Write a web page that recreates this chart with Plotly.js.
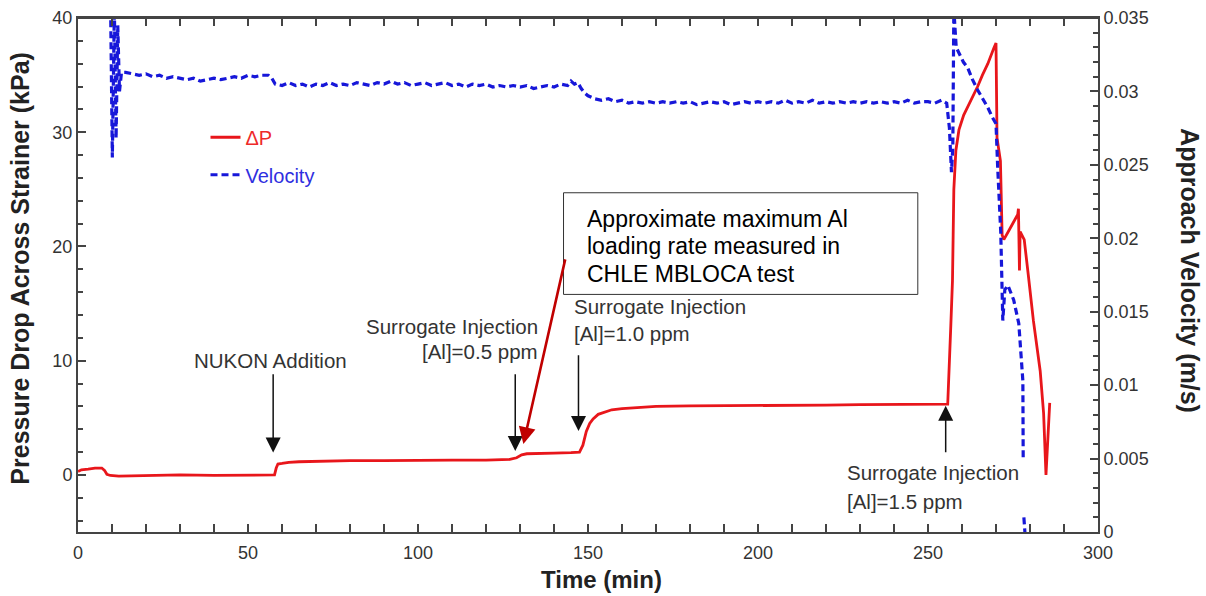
<!DOCTYPE html>
<html>
<head>
<meta charset="utf-8">
<script src="https://cdn.plot.ly/plotly-3.0.1.min.js"></script>
<style>
  html, body { margin: 0; padding: 0; background: #fff; }
  #chart { width: 1206px; height: 596px; }
</style>
</head>
<body>
<div id="chart"></div>
<script>
// ---- Data ----
// Pressure drop across strainer (kPa) vs time (min)
const dpTime = [0, 1, 3, 5, 7, 7.8, 8.5, 9.5, 12, 20, 30, 40, 50, 57.8, 58.3, 58.8, 60, 62, 65, 70,
  80, 90, 100, 110, 120, 127, 129, 130.5, 132, 135, 140, 145, 147.5, 148.5, 149.5, 150.5, 151.5, 153, 155, 157,
  160, 165, 170, 180, 190, 200, 210, 220, 230, 240, 250, 255.8, 256.7, 257.2, 257.4, 257.6, 258.2, 259.1, 260.5, 261.7,
  263, 264.6, 266, 267.6, 269.4, 270, 270.3, 271.3, 271.8, 272.3, 274, 276.4, 276.6, 276.9, 277.1, 278.3, 279.5, 281, 283, 284,
  284.7, 285.3, 285.8];
const dpValues = [0.3, 0.45, 0.5, 0.6, 0.6, 0.4, 0.05, -0.05, -0.1, -0.05, 0, -0.05, 0, 0, 0.6, 0.95, 1.0, 1.1, 1.15, 1.2,
  1.25, 1.25, 1.3, 1.3, 1.3, 1.35, 1.5, 1.75, 1.85, 1.85, 1.9, 1.95, 2.0, 2.6, 3.8, 4.5, 4.9, 5.3, 5.5, 5.7,
  5.8, 5.9, 6.0, 6.05, 6.05, 6.1, 6.1, 6.1, 6.15, 6.15, 6.2, 6.2, 13, 17, 21, 25, 28.4, 30.2, 31.5, 32.2,
  33.1, 34, 35, 36, 37.4, 37.8, 29.5, 27.5, 21.0, 20.6, 21.5, 22.8, 23.3, 17.9, 21.3, 20.6, 17.5, 13.5, 9.1, 5.4,
  0, 3, 6.3];

// Approach velocity (m/s) vs time (min)
const velTime = [9.6, 10.1, 10.7, 11.2, 11.7, 12.2, 12.8, 14, 16, 18, 20, 22, 24, 26, 28, 30, 32, 34, 36, 38,
  40, 42, 44, 46, 48, 50, 52, 54, 56, 57, 58, 60, 62, 64, 66, 68, 70, 72, 74, 76,
  78, 80, 82, 84, 86, 88, 90, 92, 94, 96, 98, 100, 102, 104, 106, 108, 110, 112, 114, 116,
  118, 120, 122, 124, 126, 128, 130, 132, 134, 136, 138, 140, 142, 144, 145, 146, 147, 148, 149, 150,
  151, 152, 154, 156, 158, 160, 162, 164, 166, 168, 170, 172, 174, 176, 178, 180, 182, 184, 186, 188,
  190, 192, 194, 196, 198, 200, 202, 204, 206, 208, 210, 212, 214, 216, 218, 220, 222, 224, 226, 228,
  230, 232, 234, 236, 238, 240, 242, 244, 246, 248, 250, 252, 254, 255.5, 256.3, 256.9, 257.3, 257.6, 258.3, 259.1,
  260.4, 261.7, 263.1, 264.6, 266.1, 267.6, 269, 270, 270.5, 271.4, 272, 272.6, 273.5, 275.2, 276.7, 277.9, 278.0, 278.1, 278.2, 278.5];
const velValues = [0.0356, 0.0255, 0.0356, 0.0268, 0.0345, 0.0300, 0.0313, 0.0313, 0.0312, 0.0311, 0.0312, 0.0310, 0.0311, 0.0309, 0.0310, 0.0309, 0.0308, 0.0309, 0.0307, 0.0308,
  0.0309, 0.0308, 0.0309, 0.0310, 0.0309, 0.0311, 0.0310, 0.0311, 0.0311, 0.0309, 0.0305, 0.0304, 0.0306, 0.0304, 0.0305, 0.0303, 0.0305, 0.0304, 0.0306, 0.0304,
  0.0305, 0.0304, 0.0306, 0.0305, 0.0304, 0.0306, 0.0305, 0.0307, 0.0305, 0.0306, 0.0304, 0.0305, 0.0306, 0.0304, 0.0305, 0.0306, 0.0304, 0.0305, 0.0303, 0.0305,
  0.0304, 0.0305, 0.0303, 0.0304, 0.0303, 0.0304, 0.0303, 0.0304, 0.0302, 0.0303, 0.0304, 0.0303, 0.0305, 0.0304, 0.0307, 0.0305, 0.0306, 0.0302, 0.0299, 0.0297,
  0.0296, 0.0295, 0.0294, 0.0295, 0.0293, 0.0294, 0.0292, 0.0293, 0.0292, 0.0293, 0.0292, 0.0293, 0.0292, 0.0293, 0.0292, 0.0293, 0.0291, 0.0292, 0.0293, 0.0292,
  0.0293, 0.0291, 0.0292, 0.0293, 0.0292, 0.0293, 0.0292, 0.0293, 0.0292, 0.0294, 0.0292, 0.0293, 0.0292, 0.0294, 0.0292, 0.0293, 0.0292, 0.0293, 0.0292, 0.0293,
  0.0292, 0.0293, 0.0292, 0.0293, 0.0292, 0.0293, 0.0292, 0.0294, 0.0292, 0.0293, 0.0293, 0.0292, 0.0294, 0.0292, 0.0275, 0.0245, 0.0262, 0.0356, 0.0330, 0.0326,
  0.0320, 0.0316, 0.0308, 0.0301, 0.0295, 0.0289, 0.0282, 0.0278, 0.0248, 0.0204, 0.0144, 0.0165, 0.0168, 0.0158, 0.0142, 0.0103, 0.0049, null, 0.0010, 0.0000];

// Tick values
const xTickVals = [0, 50, 100, 150, 200, 250, 300];
const yTickVals = [0, 10, 20, 30, 40];
const y2TickVals = [0, 0.005, 0.01, 0.015, 0.02, 0.025, 0.03, 0.035];

const FONT = 'Liberation Sans, Arial, Helvetica, sans-serif';
const AX = '#444';

const traces = [
  {
    x: dpTime, y: dpValues, name: '\u0394P', type: 'scatter', mode: 'lines',
    line: { color: '#e8161b', width: 2.8 }, yaxis: 'y', legend: 'legend'
  },
  {
    x: velTime, y: velValues, name: 'Velocity', type: 'scatter', mode: 'lines',
    line: { color: '#1717d9', width: 3.2, dash: '7px,4px' }, yaxis: 'y2', legend: 'legend2',
    connectgaps: false
  }
];

function label(text, x, y, xanchor, size, color) {
  return { text: text, x: x, y: y, xref: 'x', yref: 'y', showarrow: false,
    xanchor: xanchor, yanchor: 'middle', font: { family: FONT, size: size || 20.5, color: color || '#333' } };
}
function arrow(x, y, ax, ay, color, width, head, size) {
  return { text: '', x: x, y: y, ax: ax, ay: ay, xref: 'x', yref: 'y', axref: 'x', ayref: 'y',
    showarrow: true, arrowhead: head, arrowsize: size, arrowwidth: width, arrowcolor: color };
}

const annotations = [
  label('NUKON Addition', 56.5, 10.0, 'center'),
  label('Surrogate Injection', 136, 13.0, 'right'),
  label('[Al]=0.5 ppm', 136, 10.8, 'right'),
  label('Surrogate Injection', 145.2, 14.7, 'left'),
  label('[Al]=1.0 ppm', 145.2, 12.4, 'left'),
  label('Surrogate Injection', 225.6, 0.2, 'left'),
  label('[Al]=1.5 ppm', 225.6, -2.3, 'left'),
  arrow(57.4, 1.95, 57.4, 8.95, '#111', 1.5, 2, 2),
  arrow(128.6, 2.1, 128.6, 8.95, '#111', 1.5, 2, 2),
  arrow(147.2, 3.85, 147.2, 10.6, '#111', 1.5, 2, 2),
  arrow(255.2, 6.05, 255.2, 1.84, '#111', 1.5, 2, 2),
  arrow(131, 2.7, 143.4, 19.0, '#c00000', 2.6, 2, 1.3),
  label('Approximate maximum Al', 149.2, 22.37, 'left', 23, '#000'),
  label('loading rate measured in', 149.2, 20.0, 'left', 23, '#000'),
  label('CHLE MBLOCA test', 149.2, 17.63, 'left', 23, '#000'),
  { text: '<b>Time (min)</b>', x: 0.513, y: -0.093, xref: 'paper', yref: 'paper',
    showarrow: false, xanchor: 'center', yanchor: 'middle',
    font: { family: FONT, size: 24, color: '#222' } },
  { text: '<b>Pressure Drop Across Strainer (kPa)</b>', x: -0.057, y: 0.514, xref: 'paper', yref: 'paper',
    showarrow: false, textangle: -90, xanchor: 'center', yanchor: 'middle',
    font: { family: FONT, size: 25, color: '#222' } },
  { text: '<b>Approach Velocity (m/s)</b>', x: 1.09, y: 0.508, xref: 'paper', yref: 'paper',
    showarrow: false, textangle: 90, xanchor: 'center', yanchor: 'middle',
    font: { family: FONT, size: 25, color: '#222' } }
];

const shapes = [
  { type: 'rect', xref: 'x', yref: 'y', x0: 142.8, x1: 247, y0: 15.8, y1: 24.7,
    line: { color: '#333', width: 1 }, fillcolor: 'rgba(0,0,0,0)' },
  { type: 'line', xref: 'paper', yref: 'paper', x0: 0, x1: 1, y0: 1, y1: 1,
    line: { color: AX, width: 2 } }
];

const layout = {
  width: 1206, height: 596,
  margin: { l: 78, r: 108, t: 18, b: 64, autoexpand: false },
  paper_bgcolor: '#fff', plot_bgcolor: '#fff',
  font: { family: FONT, size: 18, color: '#333' },
  showlegend: true,
  legend: { x: 0.125, y: 0.768, xanchor: 'left', yanchor: 'middle', bgcolor: 'rgba(0,0,0,0)',
    font: { family: FONT, size: 20, color: '#ee2a2a' } },
  legend2: { x: 0.125, y: 0.695, xanchor: 'left', yanchor: 'middle', bgcolor: 'rgba(0,0,0,0)',
    font: { family: FONT, size: 20, color: '#2f2fe0' } },
  xaxis: {
    range: [0, 300], tickmode: 'linear', tick0: xTickVals[0], dtick: xTickVals[1] - xTickVals[0],
    ticks: 'inside', ticklen: 8, tickwidth: 2, tickcolor: AX,
    minor: { dtick: 10, tick0: 0, ticks: 'inside', ticklen: 5, tickwidth: 2, tickcolor: AX, showgrid: false },
    showline: true, linecolor: AX, linewidth: 2, mirror: 'allticks', showgrid: false, zeroline: false,
    ticklabelstandoff: 3
  },
  yaxis: {
    range: [-5, 40], tickmode: 'linear', tick0: yTickVals[0], dtick: yTickVals[1] - yTickVals[0],
    ticks: 'inside', ticklen: 8, tickwidth: 2, tickcolor: AX,
    minor: { dtick: 2, tick0: 0, ticks: 'inside', ticklen: 5, tickwidth: 2, tickcolor: AX, showgrid: false },
    showline: true, linecolor: AX, linewidth: 2, showgrid: false, zeroline: false
  },
  yaxis2: {
    overlaying: 'y', side: 'right', range: [0, 0.035],
    tickmode: 'linear', tick0: y2TickVals[0], dtick: y2TickVals[1] - y2TickVals[0],
    ticks: 'inside', ticklen: 8, tickwidth: 2, tickcolor: AX,
    minor: { dtick: 0.001, tick0: 0, ticks: 'inside', ticklen: 5, tickwidth: 2, tickcolor: AX, showgrid: false },
    showline: true, linecolor: AX, linewidth: 2, showgrid: false, zeroline: false
  },
  annotations: annotations,
  shapes: shapes
};

Plotly.newPlot('chart', traces, layout, { displayModeBar: false, staticPlot: true });
</script>
</body>
</html>
